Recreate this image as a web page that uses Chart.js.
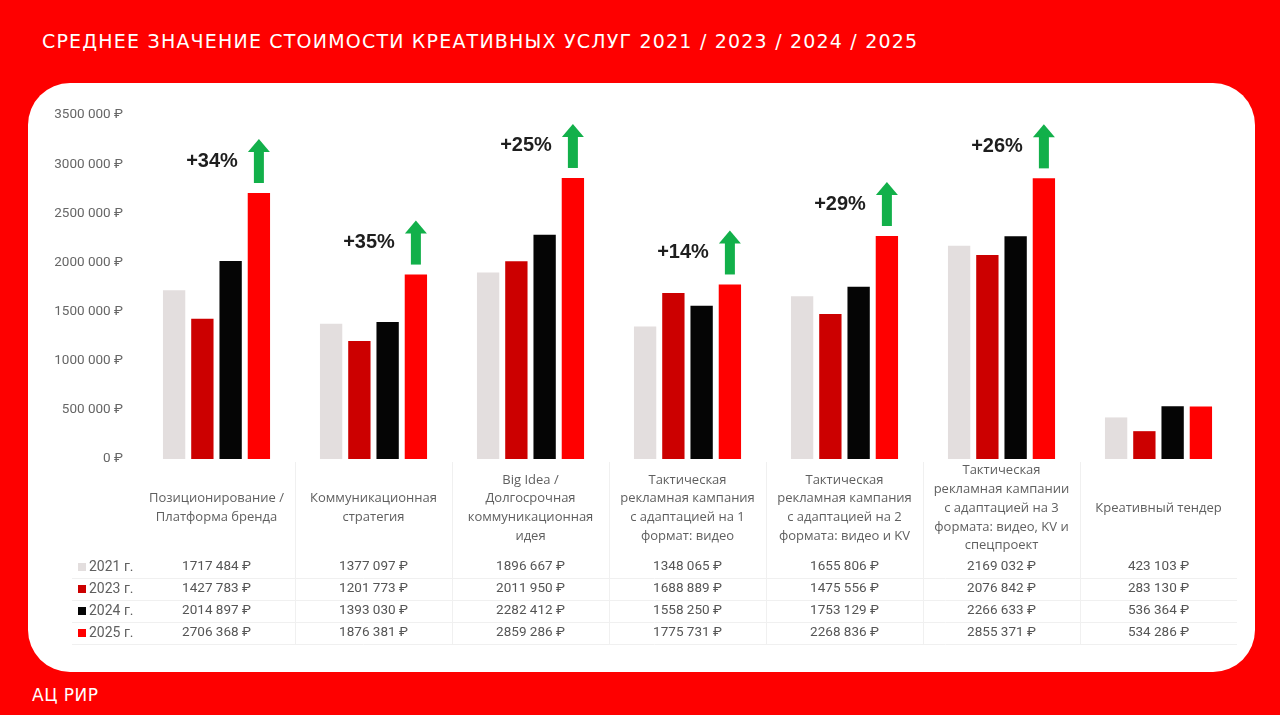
<!DOCTYPE html>
<html>
<head>
<meta charset="utf-8">
<script src="https://cdn.jsdelivr.net/npm/chart.js@4.4.1/dist/chart.umd.min.js"></script>
<style>
  html, body { margin: 0; padding: 0; }
  body { width: 1280px; height: 715px; background: #fe0000; position: relative; overflow: hidden; }
  .title { position: absolute; left: 42px; top: 30px; color: #fff; font-family: "DejaVu Sans", sans-serif; font-size: 19px; letter-spacing: 1.2px; }
  .panel { position: absolute; left: 28px; top: 83px; width: 1227px; height: 589px; background: #fff; border-radius: 42px; }
  .footer { position: absolute; left: 32px; top: 685px; color: #fff; font-family: "DejaVu Sans", sans-serif; font-size: 17px; letter-spacing: 0.5px; }
  #wrap { position: absolute; left: 0; top: 0; width: 1280px; height: 715px; }
</style>
</head>
<body>
<div class="title">СРЕДНЕЕ ЗНАЧЕНИЕ СТОИМОСТИ КРЕАТИВНЫХ УСЛУГ 2021 / 2023 / 2024 / 2025</div>
<div class="panel"></div>
<div class="footer">АЦ РИР</div>
<div id="wrap"><canvas id="chart"></canvas></div>
<script>
const categories = [
  ['Позиционирование /', 'Платформа бренда'],
  ['Коммуникационная', 'стратегия'],
  ['Big Idea /', 'Долгосрочная', 'коммуникационная', 'идея'],
  ['Тактическая', 'рекламная кампания', 'с адаптацией на 1', 'формат: видео'],
  ['Тактическая', 'рекламная кампания', 'с адаптацией на 2', 'формата: видео и KV'],
  ['Тактическая', 'рекламная кампании', 'с адаптацией на 3', 'формата: видео, KV и', 'спецпроект'],
  ['Креативный тендер']
];
const years = ['2021 г.', '2023 г.', '2024 г.', '2025 г.'];
const values2021 = [1717484, 1377097, 1896667, 1348065, 1655806, 2169032, 423103];
const values2023 = [1427783, 1201773, 2011950, 1688889, 1475556, 2076842, 283130];
const values2024 = [2014897, 1393030, 2282412, 1558250, 1753129, 2266633, 536364];
const values2025 = [2706368, 1876381, 2859286, 1775731, 2268836, 2855371, 534286];
const growth = ['+34%', '+35%', '+25%', '+14%', '+29%', '+26%', null];
const yTicks = [0, 500000, 1000000, 1500000, 2000000, 2500000, 3000000, 3500000];
const yTickLabels = ['0 ₽', '500 000 ₽', '1000 000 ₽', '1500 000 ₽', '2000 000 ₽', '2500 000 ₽', '3000 000 ₽', '3500 000 ₽'];

const colors = ['#e3dede', '#cc0000', '#050505', '#ff0000'];

function rub(v) {
  const th = Math.floor(v / 1000);
  const rest = String(v % 1000).padStart(3, '0');
  return th + ' ' + rest + ' ₽';
}

const tablePlugin = {
  id: 'table',
  afterDraw(chart) {
    const ctx = chart.ctx;
    const x = chart.scales.x;
    const area = chart.chartArea;
    const colW = (area.right - area.left) / categories.length;
    const series = chart.data.datasets;
    ctx.save();

    // grid lines
    ctx.strokeStyle = '#f0f0f0';
    ctx.lineWidth = 1;
    const rowY = [567, 589, 611, 633];
    for (let i = 1; i < categories.length; i++) {
      const lx = Math.round(area.left + colW * i) + 0.5;
      ctx.beginPath(); ctx.moveTo(lx, area.bottom + 3); ctx.lineTo(lx, 645); ctx.stroke();
    }
    [578, 600, 622, 644].forEach(function (ly) {
      ctx.beginPath(); ctx.moveTo(72, ly + 0.5); ctx.lineTo(area.right, ly + 0.5); ctx.stroke();
    });

    // category labels
    ctx.fillStyle = '#5f5f5f';
    ctx.font = '13px "Open Sans"';
    ctx.textAlign = 'center';
    ctx.textBaseline = 'middle';
    const lh = 18.8;
    categories.forEach(function (lines, i) {
      const cx = x.getPixelForValue(i);
      const y0 = 508 - (lines.length - 1) * lh / 2;
      lines.forEach(function (t, j) { ctx.fillText(t, cx, y0 + j * lh); });
    });

    // values + row legend
    series.forEach(function (ds, r) {
      ctx.font = '13.5px Roboto';
      ctx.fillStyle = '#555';
      ctx.textAlign = 'center';
      ds.data.forEach(function (v, i) {
        ctx.fillText(rub(v), x.getPixelForValue(i), rowY[r]);
      });
      ctx.fillStyle = ds.backgroundColor;
      ctx.fillRect(78, rowY[r] - 4, 8, 8);
      ctx.fillStyle = '#5f5f5f';
      ctx.textAlign = 'left';
      ctx.font = '14px Roboto';
      ctx.fillText(years[r], 89, rowY[r]);
    });

    // growth arrows
    const meta = chart.getDatasetMeta(3);
    growth.forEach(function (g, i) {
      if (!g) return;
      const bar = meta.data[i];
      const cx = bar.x;
      const bottom = bar.y - 10;
      const top = bottom - 44;
      ctx.fillStyle = '#12b04a';
      ctx.fillRect(cx - 5, top + 12, 10, bottom - top - 12);
      ctx.beginPath();
      ctx.moveTo(cx, top);
      ctx.lineTo(cx + 11, top + 13);
      ctx.lineTo(cx - 11, top + 13);
      ctx.closePath();
      ctx.fill();
      ctx.fillStyle = '#1e1e1e';
      ctx.font = 'bold 20px "Liberation Sans"';
      ctx.textAlign = 'right';
      ctx.fillText(g, cx - 21, top + 22);
    });
    ctx.restore();
  }
};

new Chart(document.getElementById('chart'), {
  type: 'bar',
  data: {
    labels: categories,
    datasets: [
      { label: years[0], data: values2021, backgroundColor: colors[0] },
      { label: years[1], data: values2023, backgroundColor: colors[1] },
      { label: years[2], data: values2024, backgroundColor: colors[2] },
      { label: years[3], data: values2025, backgroundColor: colors[3] }
    ]
  },
  options: {
    responsive: true,
    maintainAspectRatio: false,
    animation: false,
    layout: { padding: { left: 40, right: 43, top: 115, bottom: 256 } },
    datasets: { bar: { categoryPercentage: 0.72, barPercentage: 0.79 } },
    plugins: { legend: { display: false }, tooltip: { enabled: false } },
    scales: {
      x: { display: false },
      y: {
        min: 0,
        max: 3500000,
        grid: { display: false },
        border: { display: false },
        afterFit(scale) { scale.width = 98; },
        afterBuildTicks(scale) { scale.ticks = yTicks.map(function (v) { return { value: v }; }); },
        ticks: {
          padding: 7,
          color: '#666',
          font: { family: 'Roboto', size: 13.5 },
          callback(value) { return yTickLabels[yTicks.indexOf(value)]; }
        }
      }
    }
  },
  plugins: [tablePlugin]
});
</script>
</body>
</html>
